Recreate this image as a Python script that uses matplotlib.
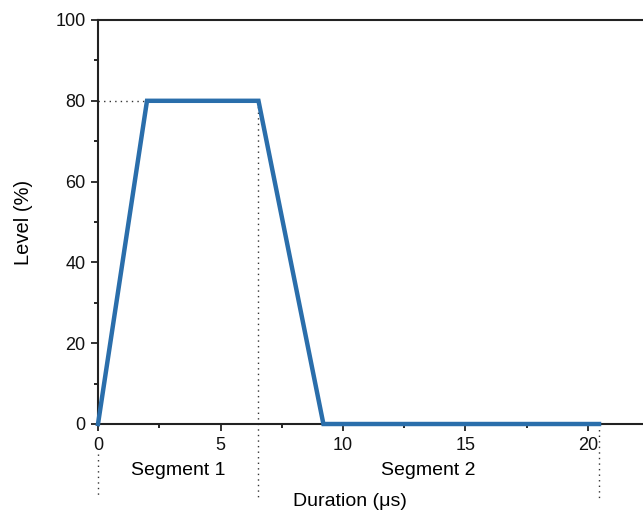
import matplotlib
matplotlib.use("Agg")
import matplotlib.pyplot as plt
from matplotlib.ticker import MultipleLocator

plt.rcParams['font.family'] = ['Liberation Sans', 'DejaVu Sans']

duration = [0, 2, 6.55, 9.2, 20.45]
level = [0, 80, 80, 0, 0]
seg_bounds = [0, 6.55, 20.45]
seg_labels = ["Segment 1", "Segment 2"]
hold_level = 80

fig = plt.figure(figsize=(6.43, 5.12), dpi=100)
ax = fig.add_axes([98/643, 88/512, 1 - 98/643, 404/512])
ax.set_xlim(0, 545/24.5)
ax.set_ylim(0, 100)

ax.plot(duration, level, color='#2a6eab', lw=3.2, solid_joinstyle='miter', zorder=3, clip_on=False)

dot = dict(color='#333333', lw=1, ls=(0, (1, 3)), clip_on=False, zorder=2)
# horizontal dotted at hold level
ax.plot([0, duration[1]], [hold_level, hold_level], **dot)
# vertical dotted boundaries
ax.plot([seg_bounds[1]] * 2, [hold_level, -19], **dot)
ax.plot([seg_bounds[0]] * 2, [-7.5, -17.5], **dot)
ax.plot([seg_bounds[2]] * 2, [0, -18.5], **dot)

for i, lab in enumerate(seg_labels):
    ax.text((seg_bounds[i] + seg_bounds[i+1]) / 2, -11.4, lab, ha='center', va='center', fontsize=14)

ax.text(10.3, -19.3, "Duration (μs)", ha='center', va='center', fontsize=14)
ax.set_ylabel("Level (%)", fontsize=14.5, labelpad=16)

ax.xaxis.set_major_locator(MultipleLocator(5))
ax.xaxis.set_minor_locator(MultipleLocator(2.5))
ax.yaxis.set_major_locator(MultipleLocator(20))
ax.yaxis.set_minor_locator(MultipleLocator(10))
ax.tick_params(which='major', direction='out', length=5, width=1.2, labelsize=13, colors='#111111', pad=4)
ax.tick_params(which='minor', direction='out', length=3, width=1.2)

for s in ['left', 'bottom', 'top']:
    ax.spines[s].set_linewidth(1.5)
    ax.spines[s].set_color('#222222')
ax.spines['right'].set_visible(False)

fig.savefig("out.png", dpi=100)
